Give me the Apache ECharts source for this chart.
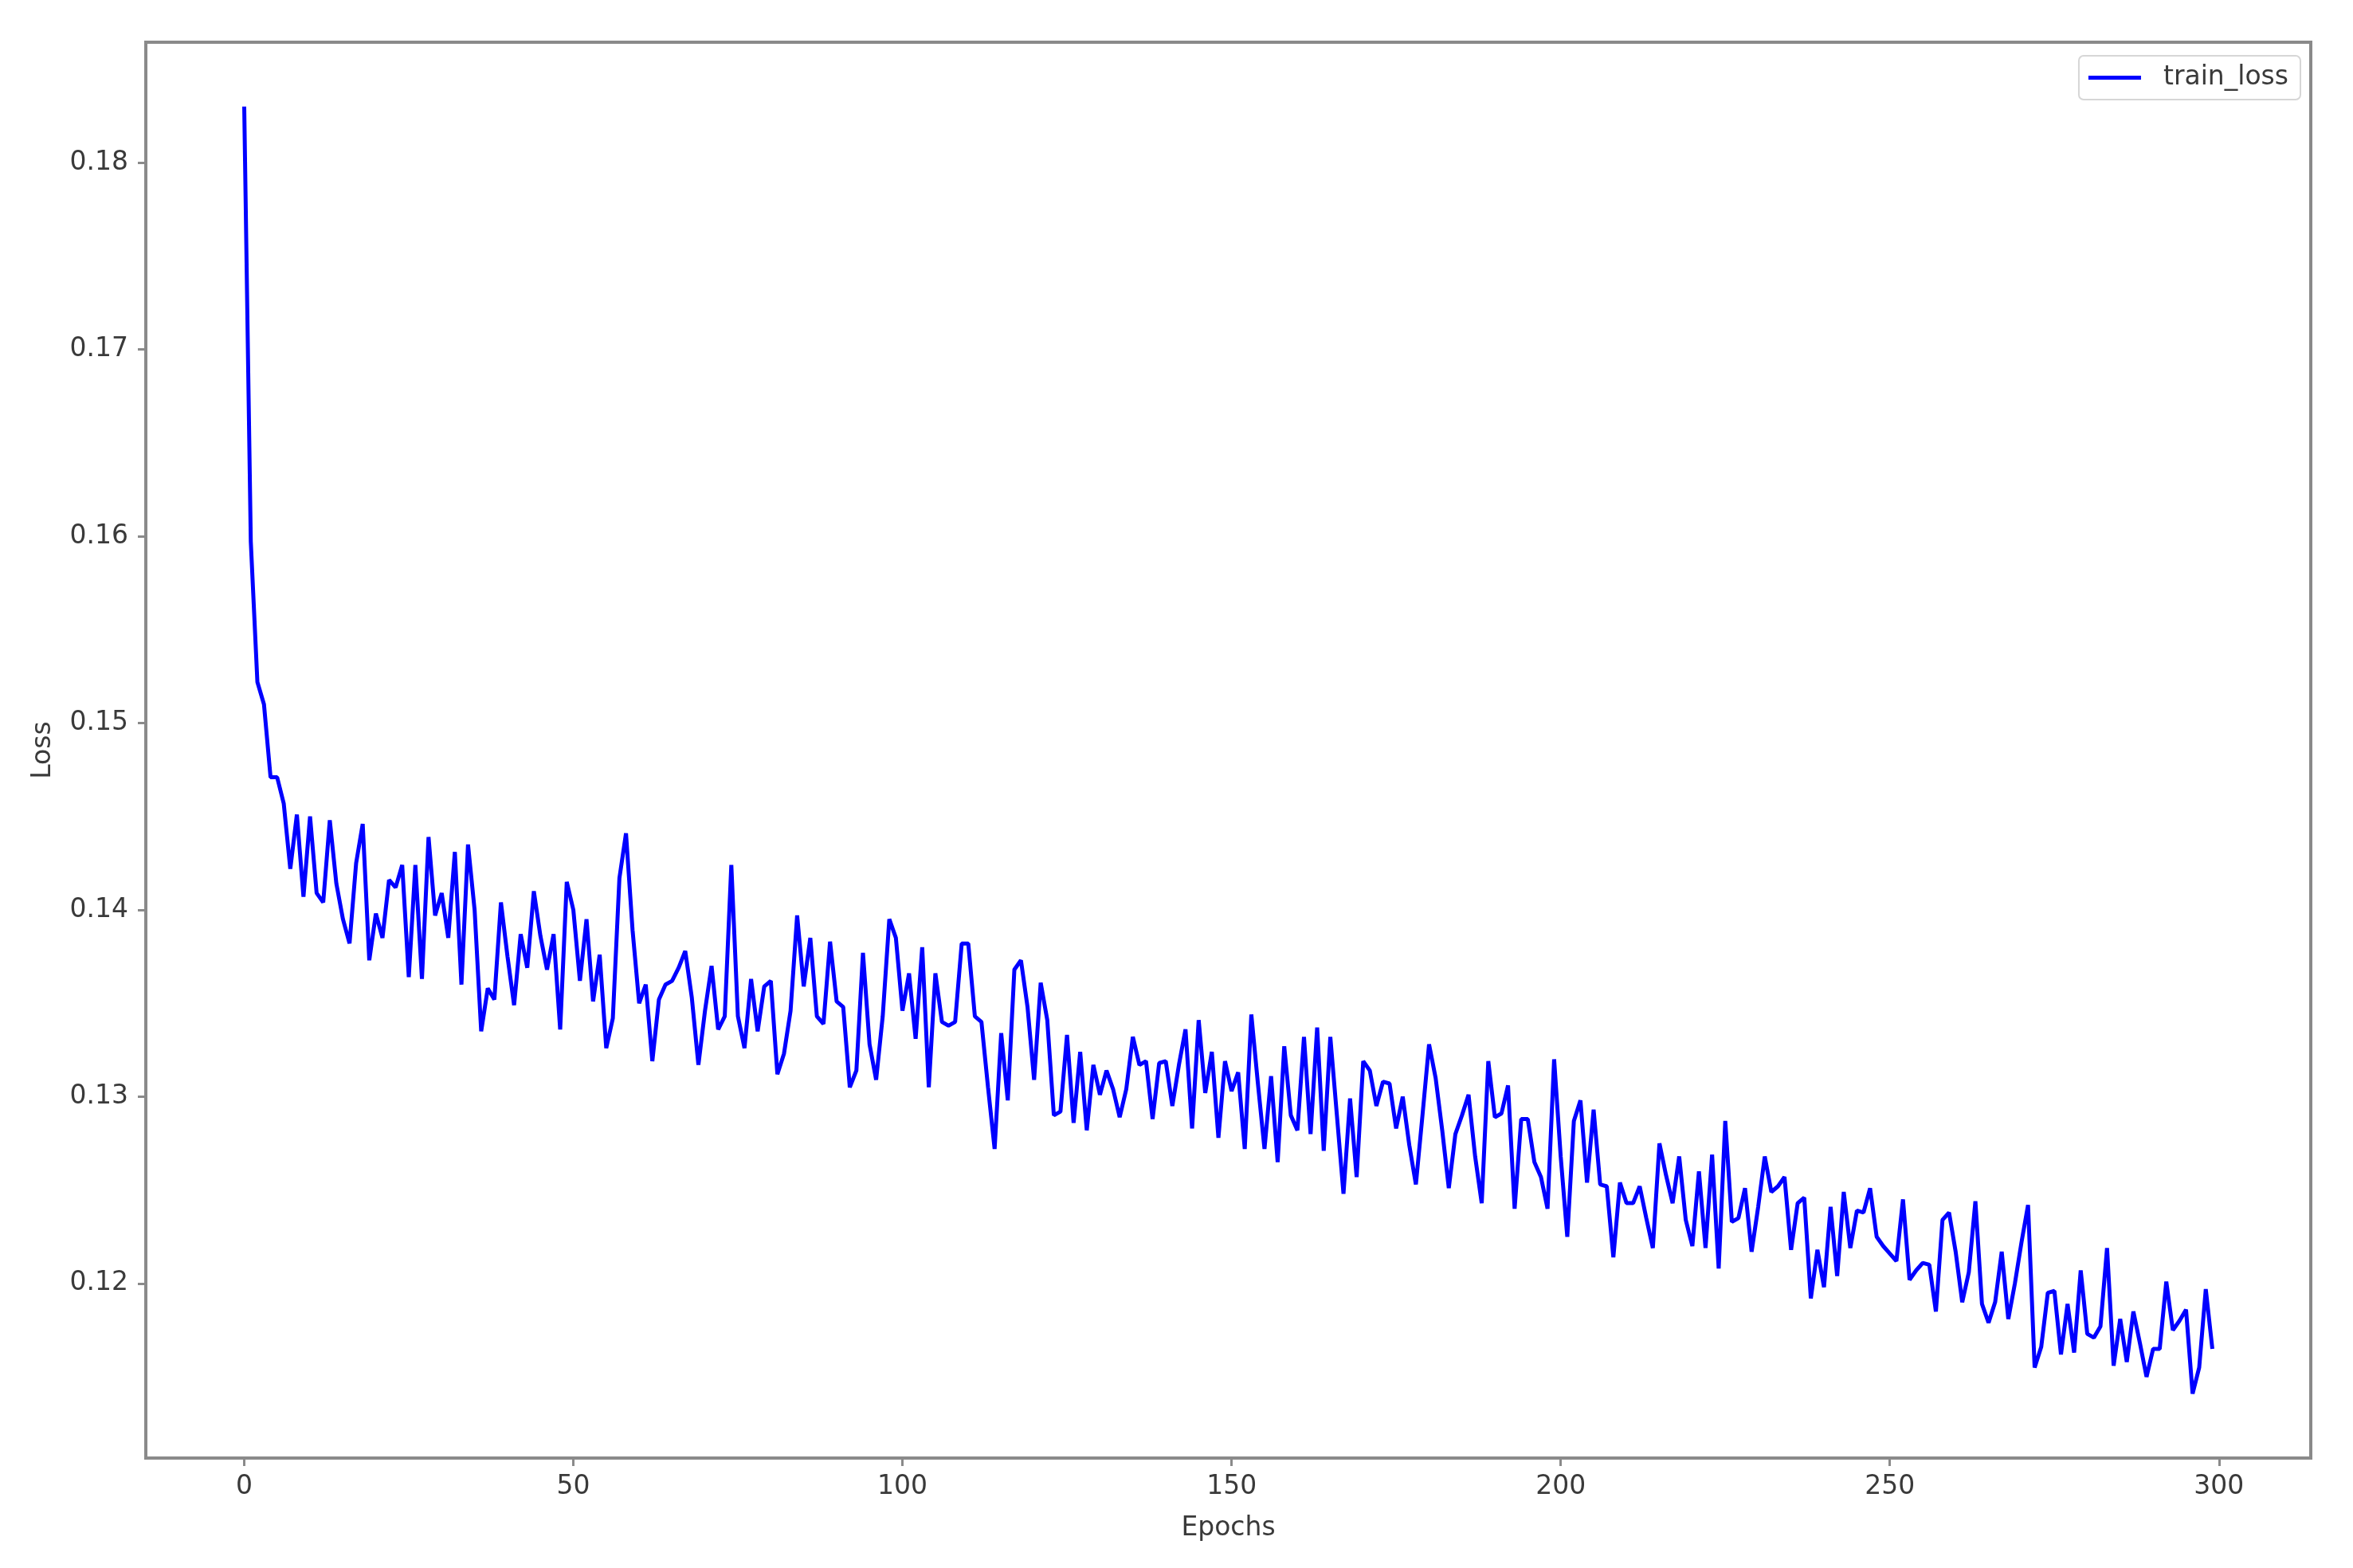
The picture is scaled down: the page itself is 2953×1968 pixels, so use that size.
<!DOCTYPE html>
<html>
<head>
<meta charset="utf-8">
<script src="https://cdn.jsdelivr.net/npm/echarts@6/dist/echarts.min.js"></script>
<style>
html,body{margin:0;padding:0;background:#fff;}
#chart{width:2953px;height:1968px;}
</style>
</head>
<body>
<div id="chart"></div>
<script>
// train_loss per epoch, in blocks of 50 epochs
const lossEpochs0to49 = [
0.1830,0.1597,0.1522,0.1510,0.1471,0.1471,0.1457,0.1422,0.1451,0.1407,
0.1450,0.1409,0.1404,0.1448,0.1414,0.1395,0.1382,0.1425,0.1446,0.1373,
0.1398,0.1385,0.1416,0.1412,0.1424,0.1364,0.1424,0.1363,0.1439,0.1397,
0.1409,0.1385,0.1431,0.1360,0.1435,0.1400,0.1335,0.1358,0.1352,0.1404,
0.1375,0.1349,0.1387,0.1369,0.1410,0.1386,0.1368,0.1387,0.1336,0.1415];
const lossEpochs50to99 = [
0.1400,0.1362,0.1395,0.1351,0.1376,0.1326,0.1342,0.1417,0.1441,0.1389,
0.1350,0.1360,0.1319,0.1352,0.1360,0.1362,0.1369,0.1378,0.1353,0.1317,
0.1346,0.1370,0.1336,0.1343,0.1424,0.1343,0.1326,0.1363,0.1335,0.1359,
0.1362,0.1312,0.1323,0.1346,0.1397,0.1359,0.1385,0.1343,0.1339,0.1383,
0.1351,0.1348,0.1305,0.1314,0.1377,0.1328,0.1309,0.1343,0.1395,0.1385];
const lossEpochs100to149 = [
0.1346,0.1366,0.1331,0.1380,0.1305,0.1366,0.1340,0.1338,0.1340,0.1382,
0.1382,0.1343,0.1340,0.1305,0.1272,0.1334,0.1298,0.1368,0.1373,0.1348,
0.1309,0.1361,0.1341,0.1290,0.1292,0.1333,0.1286,0.1324,0.1282,0.1317,
0.1301,0.1314,0.1304,0.1289,0.1304,0.1332,0.1317,0.1319,0.1288,0.1318,
0.1319,0.1295,0.1317,0.1336,0.1283,0.1341,0.1302,0.1324,0.1278,0.1319];
const lossEpochs150to199 = [
0.1303,0.1313,0.1272,0.1344,0.1307,0.1272,0.1311,0.1265,0.1327,0.1290,
0.1282,0.1332,0.1280,0.1337,0.1271,0.1332,0.1290,0.1248,0.1299,0.1257,
0.1319,0.1314,0.1295,0.1308,0.1307,0.1283,0.1300,0.1274,0.1253,0.1290,
0.1328,0.1310,0.1282,0.1251,0.1280,0.1290,0.1301,0.1268,0.1243,0.1319,
0.1289,0.1291,0.1306,0.1240,0.1288,0.1288,0.1265,0.1257,0.1240,0.1320];
const lossEpochs200to249 = [
0.1268,0.1225,0.1287,0.1298,0.1254,0.1293,0.1253,0.1252,0.1214,0.1254,
0.1243,0.1243,0.1252,0.1235,0.1219,0.1275,0.1258,0.1243,0.1268,0.1234,
0.1220,0.1260,0.1219,0.1269,0.1208,0.1287,0.1233,0.1235,0.1251,0.1217,
0.1241,0.1268,0.1249,0.1252,0.1257,0.1218,0.1243,0.1246,0.1192,0.1218,
0.1198,0.1241,0.1204,0.1249,0.1219,0.1239,0.1238,0.1251,0.1225,0.1220];
const lossEpochs250to299 = [
0.1216,0.1212,0.1245,0.1202,0.1207,0.1211,0.1210,0.1185,0.1234,0.1238,
0.1217,0.1190,0.1206,0.1244,0.1189,0.1179,0.1190,0.1217,0.1181,0.1200,
0.1222,0.1242,0.1155,0.1166,0.1195,0.1196,0.1162,0.1189,0.1163,0.1207,
0.1173,0.1171,0.1177,0.1219,0.1156,0.1181,0.1158,0.1185,0.1168,0.1150,
0.1165,0.1165,0.1201,0.1175,0.1180,0.1186,0.1141,0.1155,0.1197,0.1165];

const xTicks = [0, 50, 100, 150, 200, 250, 300];
const yTicks = [0.12, 0.13, 0.14, 0.15, 0.16, 0.17, 0.18];
const seriesName = 'train_loss';
const xTitle = 'Epochs';
const yTitle = 'Loss';

const trainLoss = [].concat(lossEpochs0to49, lossEpochs50to99, lossEpochs100to149,
  lossEpochs150to199, lossEpochs200to249, lossEpochs250to299);
const points = trainLoss.map((v, i) => [i, v]);

// matplotlib-style 5% margins
const xMinD = 0, xMaxD = trainLoss.length - 1;
const yMinD = Math.min(...trainLoss), yMaxD = Math.max(...trainLoss);
const xPad = (xMaxD - xMinD) * 0.05, yPad = (yMaxD - yMinD) * 0.05;

const axisColor = '#8a8a8a';
const textColor = '#3a3a3a';
const fontFamily = 'DejaVu Sans';
const fs = 33;

const chart = echarts.init(document.getElementById('chart'), null, {renderer: 'canvas'});
chart.setOption({
  animation: false,
  backgroundColor: '#ffffff',
  grid: {left: 183, right: 53, top: 53, bottom: 138, containLabel: false,
    show: true, borderColor: axisColor, borderWidth: 4, backgroundColor: 'transparent'},
  legend: {
    data: [{name: seriesName, icon: 'rect'}],
    right: 66, top: 70,
    itemWidth: 66, itemHeight: 5,
    padding: [11, 15, 11, 12],
    backgroundColor: '#ffffff',
    borderColor: '#d6d6d6', borderWidth: 2, borderRadius: 6,
    textStyle: {fontFamily, fontSize: fs, color: textColor, padding: [0, 0, 0, 23]}
  },
  xAxis: {
    type: 'value',
    min: xMinD - xPad, max: xMaxD + xPad,
    name: xTitle, nameLocation: 'middle', nameGap: 72,
    nameTextStyle: {fontFamily, fontSize: fs, color: textColor},
    axisLine: {show: true, onZero: false, lineStyle: {color: axisColor, width: 4}},
    axisTick: {show: true, customValues: xTicks, length: 10, lineStyle: {color: axisColor, width: 3}},
    axisLabel: {customValues: xTicks, margin: 20, fontFamily, fontSize: fs, color: textColor,
      formatter: v => String(v)},
    splitLine: {show: false}
  },
  yAxis: {
    type: 'value',
    min: yMinD - yPad, max: yMaxD + yPad,
    name: yTitle, nameLocation: 'middle', nameGap: 112, nameRotate: 90,
    nameTextStyle: {fontFamily, fontSize: fs, color: textColor},
    axisLine: {show: true, onZero: false, lineStyle: {color: axisColor, width: 4}},
    axisTick: {show: true, customValues: yTicks, length: 10, lineStyle: {color: axisColor, width: 3}},
    axisLabel: {customValues: yTicks, margin: 22, fontFamily, fontSize: fs, color: textColor,
      formatter: v => v.toFixed(2)},
    splitLine: {show: false}
  },
  series: [{
    name: seriesName,
    type: 'line',
    data: points,
    showSymbol: false,
    symbol: 'none',
    lineStyle: {color: '#0000ff', width: 5},
    itemStyle: {color: '#0000ff'},
    clip: true
  }]
});
</script>
</body>
</html>
